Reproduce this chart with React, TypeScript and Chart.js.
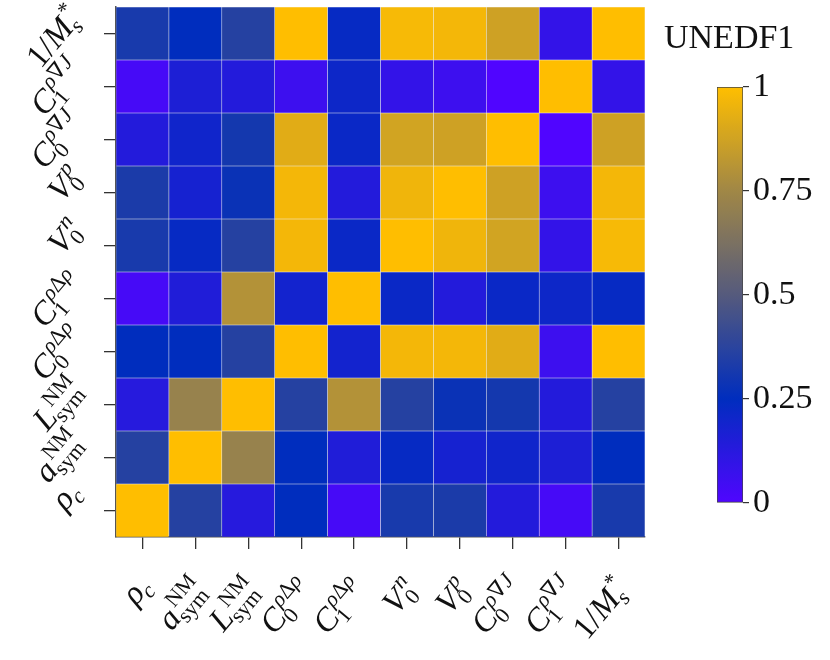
import React, { useEffect, useRef } from 'react';
import { Chart, registerables } from 'chart.js';

Chart.register(...registerables);

// ---- data ----
const paramNames = ['ρc', 'aNMsym', 'LNMsym', 'C0ρΔρ', 'C1ρΔρ', 'V0n', 'V0p', 'C0ρ∇J', 'C1ρ∇J', '1/M*s'];

// correlation rows, bottom (ρc) to top (1/M*s); columns follow paramNames
const rowRhoC = [1, 0.36, 0.13, 0.25, 0.03, 0.32, 0.33, 0.14, 0.03, 0.32];
const rowAsym = [0.36, 1, 0.72, 0.25, 0.15, 0.23, 0.18, 0.2, 0.16, 0.25];
const rowLsym = [0.13, 0.72, 1, 0.36, 0.8, 0.36, 0.28, 0.31, 0.14, 0.36];
const rowC0Drho = [0.25, 0.25, 0.36, 1, 0.19, 0.97, 0.97, 0.92, 0.06, 1];
const rowC1Drho = [0.03, 0.15, 0.8, 0.19, 1, 0.22, 0.14, 0.22, 0.21, 0.23];
const rowV0n = [0.32, 0.23, 0.36, 0.97, 0.22, 1, 0.96, 0.88, 0.09, 0.98];
const rowV0p = [0.33, 0.18, 0.28, 0.97, 0.14, 0.96, 1, 0.87, 0.06, 0.97];
const rowC0nJ = [0.14, 0.2, 0.31, 0.92, 0.22, 0.88, 0.87, 1, 0.0, 0.87];
const rowC1nJ = [0.03, 0.16, 0.14, 0.06, 0.21, 0.09, 0.06, 0.0, 1, 0.09];
const rowInvM = [0.32, 0.25, 0.36, 1, 0.23, 0.98, 0.97, 0.87, 0.09, 1];

const corrRows = [rowRhoC, rowAsym, rowLsym, rowC0Drho, rowC1Drho, rowV0n, rowV0p, rowC0nJ, rowC1nJ, rowInvM];

const colorbarTicks = [0, 0.25, 0.5, 0.75, 1];
const chartTitle = 'UNEDF1';

type Part = { t: string; it: boolean };
type MathLabel = { base: Part[]; sub: Part[]; sup: Part[] };
const I = (t: string): Part => ({ t, it: true });
const R = (t: string): Part => ({ t, it: false });

const mathLabels: MathLabel[] = [
  { base: [I('ρ')], sub: [I('c')], sup: [] },
  { base: [I('a')], sub: [R('sym')], sup: [R('NM')] },
  { base: [I('L')], sub: [R('sym')], sup: [R('NM')] },
  { base: [I('C')], sub: [R('0')], sup: [I('ρ'), R('Δ'), I('ρ')] },
  { base: [I('C')], sub: [R('1')], sup: [I('ρ'), R('Δ'), I('ρ')] },
  { base: [I('V')], sub: [R('0')], sup: [I('n')] },
  { base: [I('V')], sub: [R('0')], sup: [I('p')] },
  { base: [I('C')], sub: [R('0')], sup: [I('ρ'), R('∇'), I('J')] },
  { base: [I('C')], sub: [R('1')], sup: [I('ρ'), R('∇'), I('J')] },
  { base: [R('1/'), I('M')], sub: [I('s')], sup: [R('*')] },
];

// ---- colormap ----
const cmapStops: [number, number[]][] = [
  [0, [80, 5, 255]],
  [0.25, [0, 45, 190]],
  [0.5, [85, 90, 125]],
  [0.75, [160, 135, 70]],
  [1, [255, 190, 0]],
];
function cmap(v: number): string {
  const x = Math.max(0, Math.min(1, v));
  for (let i = 0; i < cmapStops.length - 1; i++) {
    const [a, ca] = cmapStops[i];
    const [b, cb] = cmapStops[i + 1];
    if (x <= b) {
      const f = (x - a) / (b - a);
      const c = ca.map((q, k) => Math.round(q + (cb[k] - q) * f));
      return `rgb(${c[0]},${c[1]},${c[2]})`;
    }
  }
  return 'rgb(255,190,0)';
}

const SERIF = '"Liberation Serif", "DejaVu Serif", serif';
const MAIN = 33;
const SCRIPT = 22;
const ANGLE = (50 * Math.PI) / 180;

function font(p: Part, size: number) {
  return `${p.it ? 'italic ' : ''}${size}px ${SERIF}`;
}
function widthOf(ctx: CanvasRenderingContext2D, parts: Part[], size: number) {
  let w = 0;
  parts.forEach((p) => {
    ctx.font = font(p, size);
    w += ctx.measureText(p.t).width;
  });
  return w;
}
function drawParts(ctx: CanvasRenderingContext2D, parts: Part[], size: number, x: number, y: number) {
  let cx = x;
  parts.forEach((p) => {
    ctx.font = font(p, size);
    ctx.fillText(p.t, cx, y);
    cx += ctx.measureText(p.t).width;
  });
}
// draws label right-aligned, vertically centred on its full extent, at (ax, ay)
function drawMath(ctx: CanvasRenderingContext2D, lab: MathLabel, ax: number, ay: number) {
  ctx.save();
  ctx.translate(ax, ay);
  ctx.rotate(-ANGLE);
  ctx.fillStyle = '#111';
  ctx.textAlign = 'left';
  ctx.textBaseline = 'alphabetic';
  const bw = widthOf(ctx, lab.base, MAIN);
  const sw = widthOf(ctx, lab.sub, SCRIPT);
  const pw = widthOf(ctx, lab.sup, SCRIPT);
  const italicBase = lab.base[lab.base.length - 1].it;
  const supShift = italicBase ? 3 : 1;
  const subShift = italicBase ? -1 : 1;
  const total = bw + Math.max(sw + subShift, pw + supShift);
  const subDrop = MAIN * 0.2;
  const supRise = MAIN * 0.4;
  const top = lab.sup.length ? -(supRise + SCRIPT * 0.68) : -MAIN * 0.66;
  const bottom = lab.sub.length ? subDrop + SCRIPT * 0.05 : MAIN * 0.05;
  const base = -(top + bottom) / 2;
  const x0 = -total;
  drawParts(ctx, lab.base, MAIN, x0, base);
  drawParts(ctx, lab.sub, SCRIPT, x0 + bw + subShift, base + subDrop);
  drawParts(ctx, lab.sup, SCRIPT, x0 + bw + supShift, base - supRise);
  ctx.restore();
}

const mathLabelPlugin = {
  id: 'mathLabels',
  afterDraw(chart: any) {
    const { ctx } = chart;
    const xs = chart.scales.x;
    const ys = chart.scales.y;
    mathLabels.forEach((lab, i) => {
      const px = xs.getPixelForValue(i);
      drawMath(ctx, lab, px + 4, xs.bottom + 34);
      const py = ys.getPixelForValue(i + 0.5);
      drawMath(ctx, lab, ys.left - 28, py - 22);
    });
  },
};

const titlePlugin = {
  id: 'cbTitle',
  afterDraw(chart: any) {
    const { ctx } = chart;
    ctx.save();
    ctx.fillStyle = '#111';
    ctx.font = `34px ${SERIF}`;
    ctx.textAlign = 'left';
    ctx.textBaseline = 'alphabetic';
    ctx.fillText(chartTitle, 664, 48);
    ctx.restore();
  },
};

export default function App() {
  const mainRef = useRef<HTMLCanvasElement>(null);
  const cbRef = useRef<HTMLCanvasElement>(null);

  useEffect(() => {
    if (!mainRef.current || !cbRef.current) return;

    const datasets = corrRows.map((row, r) => ({
      label: paramNames[r],
      data: row.map(() => 1),
      backgroundColor: row.map((v) => cmap(v)),
      borderColor: 'rgba(150,150,160,0.12)',
      borderWidth: 0.6,
      borderSkipped: false,
      barPercentage: 1,
      categoryPercentage: 1,
      stack: 'cells',
    }));

    const tickGrid = {
      display: true,
      drawOnChartArea: false,
      drawTicks: true,
      tickLength: 12,
      color: '#333',
      lineWidth: 1.3,
      offset: false,
    };

    const main = new Chart(mainRef.current, {
      type: 'bar',
      data: { labels: paramNames, datasets: datasets as any },
      options: {
        responsive: false,
        animation: false,
        layout: { padding: { left: 104, right: 185, top: 7, bottom: 111 } },
        plugins: { legend: { display: false }, tooltip: { enabled: false }, title: { display: false } },
        scales: {
          x: {
            type: 'category',
            stacked: true,
            offset: true,
            grid: tickGrid as any,
            border: { display: true, color: '#555', width: 1.5 },
            ticks: { display: false },
          },
          y: {
            type: 'linear',
            min: 0,
            max: corrRows.length,
            stacked: true,
            afterBuildTicks: (s: any) => {
              s.ticks = corrRows.map((_, i) => ({ value: i + 0.5 }));
            },
            grid: tickGrid as any,
            border: { display: true, color: '#555', width: 1.5 },
            ticks: { display: false },
          },
        },
      },
      plugins: [mathLabelPlugin],
    });

    const cb = new Chart(cbRef.current, {
      type: 'bar',
      data: {
        labels: [''],
        datasets: [
          {
            data: [[0, 1]] as any,
            backgroundColor: (c: any) => {
              const ch = c.chart;
              const area = ch.chartArea;
              if (!area) return cmap(0.5);
              const g = ch.ctx.createLinearGradient(0, area.bottom, 0, area.top);
              for (let i = 0; i <= 64; i++) g.addColorStop(i / 64, cmap(i / 64));
              return g;
            },
            borderColor: '#444',
            borderWidth: 1,
            borderSkipped: false,
            barPercentage: 1,
            categoryPercentage: 1,
          },
        ],
      },
      options: {
        responsive: false,
        animation: false,
        layout: { padding: { left: 717, right: 0, top: 87, bottom: 157 } },
        plugins: { legend: { display: false }, tooltip: { enabled: false } },
        scales: {
          x: { display: false },
          y: {
            position: 'right',
            min: 0,
            max: 1,
            afterBuildTicks: (s: any) => {
              s.ticks = colorbarTicks.map((v) => ({ value: v }));
            },
            afterFit: (s: any) => {
              s.width = 87;
            },
            grid: { drawOnChartArea: false, drawTicks: true, tickLength: 6, color: '#333', lineWidth: 1.2 },
            border: { display: false },
            ticks: {
              color: '#111',
              padding: 4,
              font: { family: SERIF, size: 34 },
              callback: (v: any) => String(v),
            },
          },
        },
      },
      plugins: [titlePlugin],
    });

    return () => {
      main.destroy();
      cb.destroy();
    };
  }, []);

  return (
    <div style={{ position: 'fixed', left: 0, top: 0, width: 830, height: 660, background: '#fff' }}>
      <canvas ref={mainRef} width={830} height={660} style={{ position: 'absolute', left: 0, top: 0 }} />
      <canvas
        ref={cbRef}
        width={830}
        height={660}
        style={{ position: 'absolute', left: 0, top: 0, pointerEvents: 'none' }}
      />
    </div>
  );
}
